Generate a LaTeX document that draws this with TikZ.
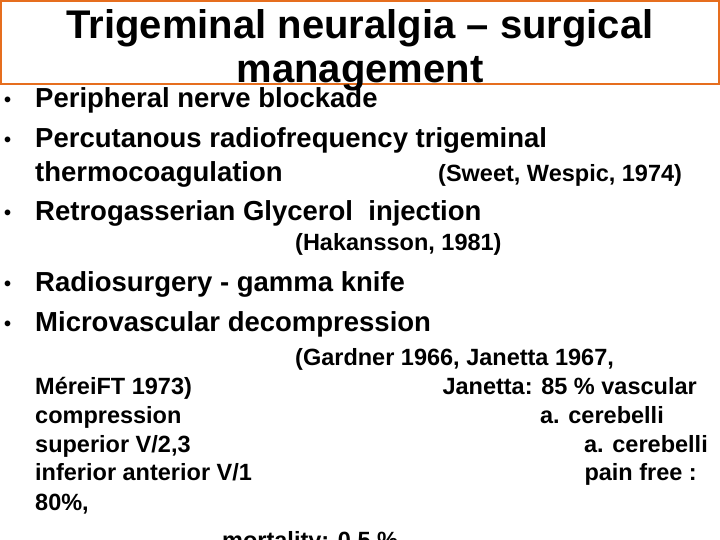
\documentclass[tikz,border=0pt]{standalone}
\usepackage{fontspec}
\setmainfont{Liberation Sans}
\begin{document}
\begin{tikzpicture}[x=1pt,y=-1pt,
  big/.style={anchor=base west,inner sep=0pt,font=\fontsize{27.5}{30}\selectfont\bfseries},
  bul/.style={anchor=base west,inner sep=0pt,font=\fontsize{20}{22}\selectfont\bfseries},
  sm/.style={anchor=base west,inner sep=0pt,font=\fontsize{23.5}{26}\selectfont\bfseries},
  smr/.style={anchor=base east,inner sep=0pt,font=\fontsize{23.5}{26}\selectfont\bfseries},
  ttl/.style={anchor=base,inner sep=0pt,font=\fontsize{40}{42}\selectfont\bfseries}]
\useasboundingbox[fill=white] (0,0) rectangle (720,540);
\draw[draw={rgb,255:red,230;green,110;blue,30},line width=2pt] (1,1) rectangle (719,84);
\node[ttl] (t1) at (360,39) {Trigeminal neuralgia – surgical};
\node[ttl] (t2) at (360,83) {management};
\foreach \y/\n in {107/1,147/2,220/3,290/4,330/5} \node[bul] (d\n) at (4,\y) {•};
\node[big] (b1) at (35,108) {Peripheral nerve blockade};
\node[big] (b2) at (35,148) {Percutanous radiofrequency trigeminal};
\node[big] (b2b) at (35,182) {thermocoagulation};
\node[sm] (s1) at (438,182) {(Sweet, Wespic, 1974)};
\node[big] (b3) at (35,221) {Retrogasserian Glycerol\ \ injection};
\node[sm] (s2) at (295,251) {(Hakansson, 1981)};
\node[big] (b4) at (35,291) {Radiosurgery - gamma knife};
\node[big] (b5) at (35,331) {Microvascular decompression};
\node[sm] (s3) at (295,365) {(Gardner 1966, Janetta 1967,};
\node[sm] (l1) at (35,394) {MéreiFT 1973)};
\node[sm] (l2) at (35,423) {compression};
\node[sm] (l3) at (35,452) {superior V/2,3};
\node[sm] (l4) at (35,480) {inferior anterior V/1};
\node[sm] (l5) at (35,510) {80\%,};
\node[smr] (r1) at (697,394) {Janetta: 85 \% vascular};
\node[smr] (r2) at (664,423) {a. cerebelli};
\node[smr] (r3) at (708,452) {a. cerebelli};
\node[smr] (r4) at (697,480) {pain free :};
\node[sm] (m) at (222,548) {mortality: 0,5 \%};
\end{tikzpicture}
\end{document}
